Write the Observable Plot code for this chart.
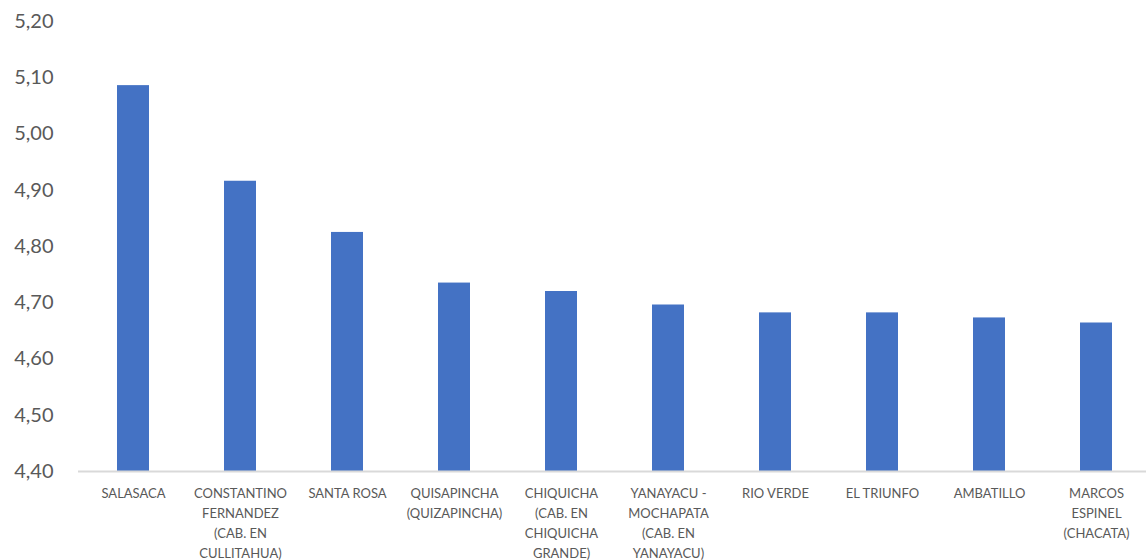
<!DOCTYPE html>
<html>
<head>
<meta charset="utf-8">
<script src="https://cdn.jsdelivr.net/npm/d3@7"></script>
<script src="https://cdn.jsdelivr.net/npm/@observablehq/plot@0.6"></script>
<style>
  html, body { margin: 0; padding: 0; background: #fff; overflow: hidden; }
  #chart svg { display: block; overflow: visible; }
</style>
</head>
<body>
<div id="chart"></div>
<script>
const categories = ["SALASACA", "CONSTANTINO FERNANDEZ", "SANTA ROSA", "QUISAPINCHA", "CHIQUICHA", "YANAYACU - MOCHAPATA", "RIO VERDE", "EL TRIUNFO", "AMBATILLO", "MARCOS ESPINEL"];
const values = [5.086, 4.916, 4.825, 4.735, 4.72, 4.696, 4.682, 4.682, 4.673, 4.664];
const tickLabels = [
  "SALASACA",
  "CONSTANTINO\nFERNANDEZ\n(CAB. EN\nCULLITAHUA)",
  "SANTA ROSA",
  "QUISAPINCHA\n(QUIZAPINCHA)",
  "CHIQUICHA\n(CAB. EN\nCHIQUICHA\nGRANDE)",
  "YANAYACU -\nMOCHAPATA\n(CAB. EN\nYANAYACU)",
  "RIO VERDE",
  "EL TRIUNFO",
  "AMBATILLO",
  "MARCOS\nESPINEL\n(CHACATA)"
];
const yTicks = [4.4, 4.5, 4.6, 4.7, 4.8, 4.9, 5.0, 5.1, 5.2];
const yMin = 4.4, yMax = 5.2;

const data = categories.map((c, i) => ({category: c, value: values[i]}));
const labelOf = new Map(categories.map((c, i) => [c, tickLabels[i]]));
const fmt = d => d3.format(".2f")(d).replace(".", ",");

const chart = Plot.plot({
  width: 1146,
  height: 560,
  marginTop: 21,
  marginBottom: 89,
  marginLeft: 78,
  marginRight: -5,
  style: {fontFamily: "Lato, 'Open Sans', sans-serif", color: "#595959", background: "#fff"},
  x: {domain: categories, paddingInner: 0.70, paddingOuter: 0.35, align: 0.5},
  y: {domain: [yMin, yMax]},
  marks: [
    Plot.barY(data, {x: "category", y1: yMin, y2: "value", fill: "#4472C4"}),
    Plot.ruleY([yMin], {stroke: "#d9d9d9", strokeWidth: 2}),
    Plot.axisY({ticks: yTicks, tickFormat: fmt, tickSize: 0, tickPadding: 25, fontSize: 20, fill: "#595959", label: null}),
    Plot.axisX({tickFormat: d => labelOf.get(d), tickSize: 0, tickPadding: 12, fontSize: 13, lineHeight: 1.55, fill: "#595959", label: null})
  ]
});
document.getElementById("chart").appendChild(chart);
</script>
</body>
</html>
